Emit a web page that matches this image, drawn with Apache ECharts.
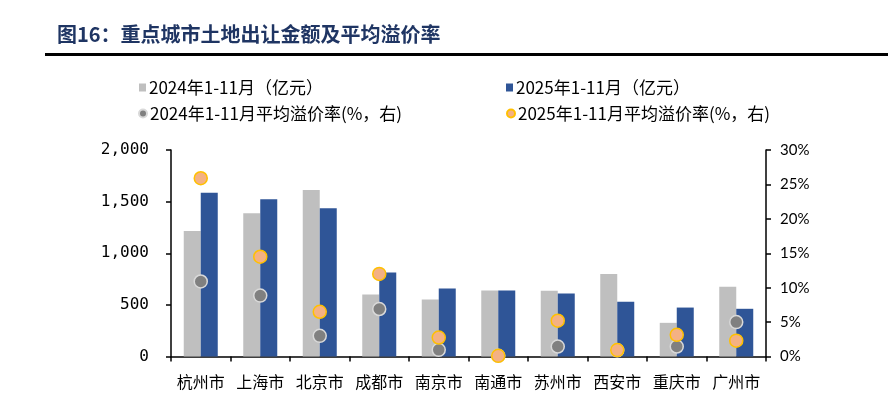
<!DOCTYPE html>
<html>
<head>
<meta charset="utf-8">
<script src="https://cdn.jsdelivr.net/npm/echarts@6/dist/echarts.min.js"></script>
<style>html,body{margin:0;padding:0;background:#fff}#c{width:888px;height:395px}</style>
</head>
<body>
<div id="c"></div>
<script>
const cities = ['杭州市','上海市','北京市','成都市','南京市','南通市','苏州市','西安市','重庆市','广州市'];
const amount2024 = [1215, 1388, 1613, 600, 552, 639, 636, 800, 326, 675];
const amount2025 = [1587, 1524, 1436, 813, 658, 639, 610, 530, 474, 462];
const premium2024 = [10.9, 8.85, 3.0, 6.9, 0.97, 0.1, 1.45, 0.9, 1.45, 5.0];
const premium2025 = [25.9, 14.5, 6.5, 12.0, 2.76, 0.1, 5.2, 0.93, 3.15, 2.3];
const leftTicks = [0, 500, 1000, 1500, 2000];
const rightTicks = [0, 5, 10, 15, 20, 25, 30];
const names = ['2024年1-11月（亿元）','2025年1-11月（亿元）','2024年1-11月平均溢价率(%，右)','2025年1-11月平均溢价率(%，右)'];

const CJK = '"Noto Sans CJK SC", sans-serif';
const chart = echarts.init(document.getElementById('c'));
const legendText = {fontSize: 17, color: '#000', fontFamily: CJK};
function lg(name, left, top, icon, w, h) {
  return {data: [name], left: left, top: top, padding: 0, icon: icon, itemWidth: w, itemHeight: h,
    itemGap: 0, textStyle: Object.assign({padding: [0,0,0,-2]}, legendText), selectedMode: false};
}
chart.setOption({
  backgroundColor: '#fff',
  animation: false,
  title: {text: '图16：重点城市土地出让金额及平均溢价率', left: 57, top: 24, padding: 0,
    textStyle: {fontSize: 20, fontWeight: 'bold', color: '#1f3563', fontFamily: CJK}},
  graphic: [{type: 'rect', shape: {x: 45, y: 53, width: 843, height: 3}, style: {fill: '#000'}}],
  legend: [
    lg(names[0], 139, 79, 'rect', 7, 8),
    lg(names[1], 506, 79, 'rect', 7, 8),
    lg(names[2], 138, 105, 'circle', 8, 8),
    lg(names[3], 506, 105, 'circle', 8, 8)
  ],
  grid: {left: 171, right: 122, top: 150, bottom: 38.5, containLabel: false},
  xAxis: {
    type: 'category', data: cities, boundaryGap: true,
    axisLine: {lineStyle: {color: '#000', width: 1.5}},
    axisTick: {show: true, inside: false, length: 5, interval: 0, lineStyle: {color: '#000', width: 1.5}},
    axisLabel: {fontSize: 16, color: '#000', margin: 17, interval: 0, fontFamily: CJK}
  },
  yAxis: [{
    type: 'value', min: leftTicks[0], max: leftTicks[leftTicks.length-1], interval: leftTicks[1]-leftTicks[0],
    splitLine: {show: false},
    axisLine: {show: true, lineStyle: {color: '#000', width: 1.5}},
    axisTick: {show: true, inside: false, length: 5, lineStyle: {color: '#000', width: 1.5}},
    axisLabel: {fontSize: 16, color: '#000', margin: 22, fontFamily: '"DejaVu Sans Mono", monospace',
      formatter: v => v.toLocaleString('en-US')}
  }, {
    type: 'value', min: rightTicks[0], max: rightTicks[rightTicks.length-1], interval: rightTicks[1]-rightTicks[0],
    splitLine: {show: false},
    axisLine: {show: true, lineStyle: {color: '#000', width: 1.5}},
    axisTick: {show: true, inside: false, length: 5, lineStyle: {color: '#000', width: 1.5}},
    axisLabel: {fontSize: 15, color: '#000', margin: 14, fontFamily: 'Lato, sans-serif', formatter: '{value}%'}
  }],
  series: [
    {name: names[0], type: 'bar', data: amount2024, barWidth: 17, barGap: '0%', itemStyle: {color: '#bfbfbf'}},
    {name: names[1], type: 'bar', data: amount2025, barWidth: 17, barGap: '0%', itemStyle: {color: '#2f5597'}},
    {name: names[2], type: 'scatter', yAxisIndex: 1, data: premium2024, symbolSize: 13,
      itemStyle: {color: '#808080', borderColor: '#d9d9d9', borderWidth: 1.5, opacity: 1}},
    {name: names[3], type: 'scatter', yAxisIndex: 1, data: premium2025, symbolSize: 13,
      itemStyle: {color: '#f4b183', borderColor: '#ffc000', borderWidth: 1.5, opacity: 1}}
  ]
});
</script>
</body>
</html>
